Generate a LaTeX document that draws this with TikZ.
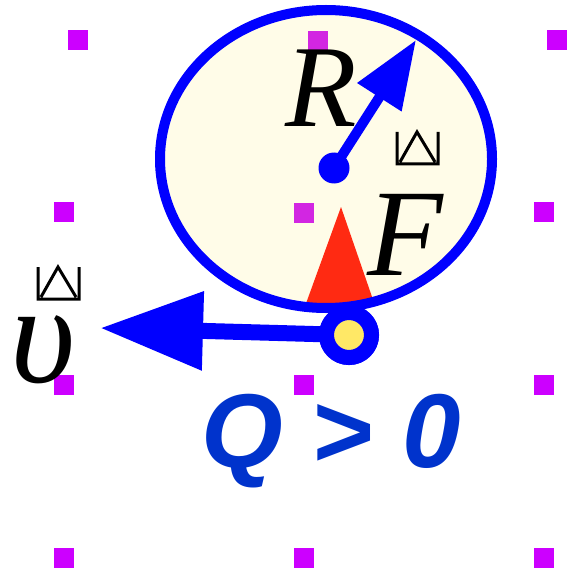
\documentclass[tikz,border=0pt]{standalone}
\usepackage{fontspec}
\setmainfont{Liberation Serif}
\setsansfont{Liberation Sans}
\usetikzlibrary{arrows.meta, shapes.geometric}
\definecolor{rimblue}{HTML}{0000FF}
\definecolor{textblue}{HTML}{0033CC}
\definecolor{diskfill}{HTML}{FFFCE8}
\definecolor{beadfill}{HTML}{FFE866}
\definecolor{forcered}{HTML}{FF2A12}
\definecolor{gridpurple}{HTML}{CC00FF}
\definecolor{gridpale}{HTML}{D226E2}

% box drawn where a glyph is missing
\newcommand\missingglyph[1]{%
  \draw[glyph, shift={#1}] (0,0) -- (0,32) -- (41,32) -- (41,0)
    (3,30) -- (20,0) -- (38,30);}

\begin{document}
\begin{tikzpicture}[
  x=1pt, y=-1pt,
  gridsq/.style={rectangle, fill=gridpurple, minimum size=20pt, inner sep=0pt},
  disk/.style={ellipse, fill=diskfill, inner sep=0pt,
               minimum width=332pt, minimum height=298pt},
  rim/.style={draw=rimblue, line width=10pt},
  hub/.style={circle, fill=rimblue, minimum size=31pt, inner sep=0pt},
  bead/.style={circle, draw=rimblue, fill=beadfill, line width=15pt,
               minimum size=45pt, inner sep=0pt},
  glyph/.style={draw=black, line width=3pt},
  sym/.style={inner sep=0pt, anchor=base, font=\fontsize{#1}{#1}\selectfont\itshape},
]
\useasboundingbox (0,0) rectangle (567,572);

% === disk ===
\node[disk] (disk) at (326,159) {};

% === grid of markers ===
\node[gridsq] (g11) at (78,40) {};
\node[gridsq, fill=gridpale] (g12) at (318,41) {};
\node[gridsq] (g13) at (557,40) {};
\node[gridsq] (g21) at (64,212) {};
\node[gridsq, fill=gridpale] (g22) at (304,213) {};
\node[gridsq] (g23) at (544,212) {};
\node[gridsq] (g31) at (64,385) {};
\node[gridsq] (g32) at (304,385) {};
\node[gridsq] (g33) at (544,385) {};
\node[gridsq] (g41) at (64,558) {};
\node[gridsq] (g42) at (304,558) {};
\node[gridsq] (g43) at (544,558) {};

% === force wedge, cut to the disk, then the rim over it ===
\coordinate (wedgetop) at (341,207);
\begin{scope}
  \clip (disk.center) ellipse [x radius=166pt, y radius=149pt];
  \fill[forcered] (wedgetop) -- (380,320) -- (300,320) -- cycle;
\end{scope}
\draw[rim] (disk.center) ellipse [x radius=166pt, y radius=149pt];

% === radius arrow ===
\node[hub] (hub) at (334,168) {};
\coordinate (rtip) at (416,40);
\draw[rimblue, line width=10pt, -{Triangle[length=68pt, width=50pt]}]
  (hub.center) -- (rtip);

% === velocity arrow ===
\coordinate (vtip) at (100,328);
\node[bead] (bead) at (349,335) {};
\draw[rimblue, line width=16pt, -{Triangle[length=103pt, width=75pt]}]
  (bead.center) -- (vtip);
\node[bead] at (bead.center) {};

% === labels ===
\node[sym=117] (rlabel) at (321,127) {R};
\node[sym=124] (flabel) at (405,275) {F};
\node[sym=142] (vlabel) at (43,382) {υ};
\missingglyph{(397,132)}
\missingglyph{(38,267)}

\node[anchor=base, inner sep=0pt, text=textblue,
      font=\fontsize{105}{105}\selectfont\sffamily\bfseries\itshape]
  (charge) at (331,467) {Q > 0};
\end{tikzpicture}
\end{document}
